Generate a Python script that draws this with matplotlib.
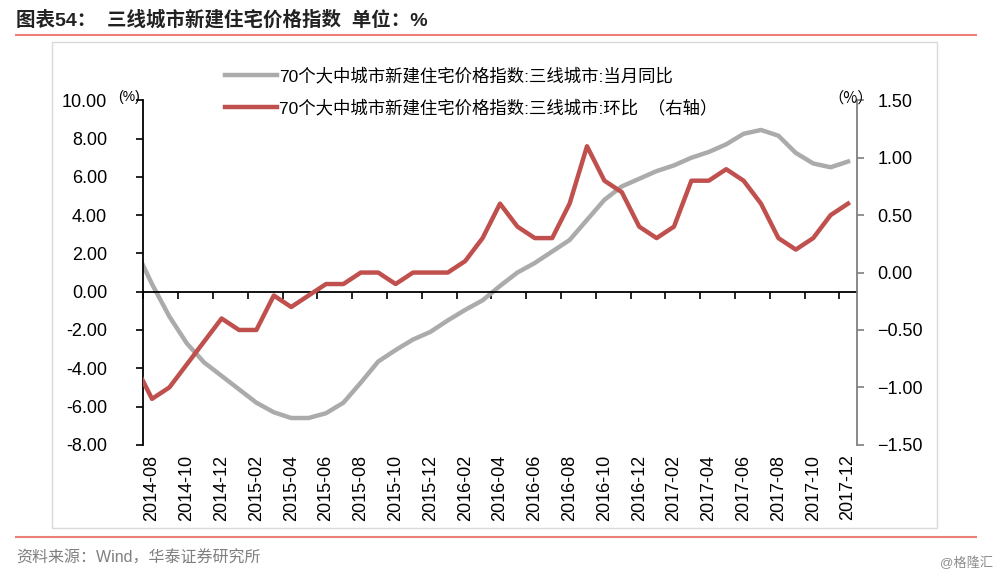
import numpy as np
import matplotlib
matplotlib.use("Agg")
import matplotlib.pyplot as plt
from matplotlib.patches import Rectangle
from matplotlib.lines import Line2D

plt.rcParams['font.family'] = ['Liberation Sans', 'Noto Sans CJK SC', 'DejaVu Sans']

# monthly data, 2014-07 .. 2017-12 (first month sits just left of the axis and gets clipped)
months = ["2014-07", "2014-08", "2014-09", "2014-10", "2014-11", "2014-12",
          "2015-01", "2015-02", "2015-03", "2015-04", "2015-05", "2015-06",
          "2015-07", "2015-08", "2015-09", "2015-10", "2015-11", "2015-12",
          "2016-01", "2016-02", "2016-03", "2016-04", "2016-05", "2016-06",
          "2016-07", "2016-08", "2016-09", "2016-10", "2016-11", "2016-12",
          "2017-01", "2017-02", "2017-03", "2017-04", "2017-05", "2017-06",
          "2017-07", "2017-08", "2017-09", "2017-10", "2017-11", "2017-12"]
yoy = [2.3, 0.4, -1.3, -2.7, -3.7, -4.4, -5.1, -5.8, -6.3, -6.6, -6.6, -6.35,
       -5.8, -4.75, -3.65, -3.05, -2.5, -2.1, -1.5, -0.95, -0.45, 0.3, 1.0, 1.5,
       2.1, 2.7, 3.75, 4.8, 5.5, 5.9, 6.3, 6.6, 7.0, 7.3, 7.7, 8.25, 8.45, 8.15,
       7.25, 6.7, 6.5, 6.8]
mom = [-0.8, -1.1, -1.0, -0.8, -0.6, -0.4, -0.5, -0.5, -0.2, -0.3, -0.2, -0.1,
       -0.1, 0.0, 0.0, -0.1, 0.0, 0.0, 0.0, 0.1, 0.3, 0.6, 0.4, 0.3, 0.3, 0.6,
       1.1, 0.8, 0.7, 0.4, 0.3, 0.4, 0.8, 0.8, 0.9, 0.8, 0.6, 0.3, 0.2, 0.3, 0.5, 0.6]
label_yoy = "70个大中城市新建住宅价格指数:三线城市:当月同比"
label_mom = "70个大中城市新建住宅价格指数:三线城市:环比  （右轴）"
left_ticks = [-8, -6, -4, -2, 0, 2, 4, 6, 8, 10]
right_ticks = [-1.5, -1.0, -0.5, 0.0, 0.5, 1.0, 1.5]

x = np.arange(len(months)) - 1
shown = months[1:]

fig = plt.figure(figsize=(10, 5.77), dpi=100)
W, H = 1000, 577

ax = fig.add_axes([143.3 / W, 1 - 444.8 / H, (856.7 - 143.3) / W, (444.8 - 100.3) / H])
ax2 = ax.twinx()

l1, = ax.plot(x, yoy, color='#ABABAB', lw=3.2, solid_joinstyle='round')
l2, = ax2.plot(x, mom, color='#C0504D', lw=3.2, solid_joinstyle='round')

ax.set_xlim(-0.5, 40.5)
ax.set_ylim(-8, 10)
ax2.set_ylim(-1.5, 1.5)

ax.set_yticks(left_ticks)
ax.set_yticklabels([f"{v:.2f}" for v in left_ticks], fontsize=13)
ax2.set_yticks(right_ticks)
ax2.set_yticklabels([f"{v:.2f}".replace("-", "−") for v in right_ticks], fontsize=13)

for s in ['top', 'right']:
    ax.spines[s].set_visible(False)
for s in ['top', 'left', 'bottom']:
    ax2.spines[s].set_visible(False)
ax.spines['left'].set_color('black')
ax.spines['left'].set_linewidth(1.3)
ax.spines['bottom'].set_position(('data', 0))
ax.spines['bottom'].set_linewidth(1.3)
ax2.spines['right'].set_color('#7F7F7F')
ax2.spines['right'].set_linewidth(1.3)

ax.tick_params(axis='y', direction='out', length=5, width=1.2, pad=21, colors='black')
ax2.tick_params(axis='y', direction='out', length=5, width=1.2, pad=10, color='#7F7F7F', labelcolor='black')

# tick marks between categories on the zero line, labels at the bottom
ax.set_xticks(np.arange(-0.5, 40, 2))
ax.tick_params(axis='x', direction='out', length=5, width=1.2, labelbottom=False)
sec = ax.secondary_xaxis(0)
sec.set_xticks(np.arange(0, 41, 2))
sec.set_xticklabels(shown[::2], rotation=90, fontsize=13)
sec.tick_params(length=0, pad=7)
sec.spines['bottom'].set_visible(False)

fig.text(118 / W, 1 - 97 / H, "(%)", fontsize=10, va='center', ha='left')
fig.text(851 / W, 1 - 98 / H, "（%）", fontsize=11, va='center', ha='center',
         family=['Noto Sans CJK SC', 'DejaVu Sans'])

fig.legend([l1, l2], [label_yoy, label_mom], loc='upper left',
           bbox_to_anchor=(216 / W, 1 - 59 / H), frameon=False, fontsize=12.5,
           handlelength=3.0, handletextpad=0.15, borderpad=0, labelspacing=0.85)

# frame, title and footer
fig.patches.append(Rectangle((51.7 / W, 1 - 528 / H), (936.7 - 51.7) / W, (528 - 41.7) / H,
                             transform=fig.transFigure, fill=False, ec='#D9D9D9', lw=1))
fig.lines.append(Line2D([16 / W, 976 / W], [1 - 35 / H, 1 - 35 / H], transform=fig.transFigure,
                        color='#EE7F76', lw=1.5))
fig.lines.append(Line2D([16 / W, 976 / W], [1 - 537 / H, 1 - 537 / H], transform=fig.transFigure,
                        color='#EE7F76', lw=1.5))
fig.text(16 / W, 1 - 20 / H, "图表54：  三线城市新建住宅价格指数  单位：%", fontsize=14,
         fontweight='bold', va='center', ha='left', color='#222222')
fig.text(16 / W, 1 - 558 / H, "资料来源：Wind，华泰证券研究所", fontsize=11.5,
         va='center', ha='left', color='#7F7F7F')
fig.text(993 / W, 1 - 563 / H, "@格隆汇", fontsize=9.5, va='center', ha='right', color='#8C8C8C')

fig.savefig("out.png", dpi=100)
